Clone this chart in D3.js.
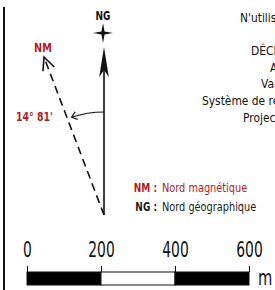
<!DOCTYPE html>
<html>
<head>
<meta charset="utf-8">
<script src="https://cdn.jsdelivr.net/npm/d3@7"></script>
<style>
  html, body { margin: 0; padding: 0; background: #fff; overflow: hidden; }
  svg { display: block; }
  text { font-family: "DejaVu Sans", sans-serif; }
</style>
</head>
<body>
<svg id="chart"></svg>
<script>
const scaleTicks = [0, 200, 400, 600];
const scaleSegments = [
  { from: 0, to: 200, fill: "black" },
  { from: 200, to: 400, fill: "white" },
  { from: 400, to: 600, fill: "black" },
];
const scaleUnit = "m";

const declinationLabel = "14° 81'";
const declinationAngle = 20.8; // degrees west, as drawn

const infoLines = [
  "N'utiliser qu'à titre indicatif",
  "",
  "DÉCLINAISON MAGNÉTIQUE",
  "Au 1er janvier",
  "Variation annuelle",
  "Système de référence : RGF93",
  "Projection : Lambert 93",
];
const infoX = [240, null, 251, 270, 261, 202, 243];

const legendItems = [
  { key: "NM", label: "Nord magnétique", color: "#b31b22" },
  { key: "NG", label: "Nord géographique", color: "#1a1a1a" },
];

const w = 275;
const h = 290;
const red = "#b31b22";
const ink = "#111";

const svg = d3.select("#chart").attr("width", w).attr("height", h);

// condensed look: squeeze text horizontally
function label(parent, x, y, str, o) {
  return parent.append("text")
    .attr("transform", `translate(${x},${y}) scale(${o.sx},1)`)
    .attr("text-anchor", o.anchor || "start")
    .attr("font-size", o.size)
    .attr("font-weight", o.bold ? "bold" : null)
    .attr("fill", o.color || ink)
    .text(str);
}

// frame line on the left
svg.append("line")
  .attr("x1", 4).attr("x2", 4)
  .attr("y1", 7).attr("y2", h)
  .attr("stroke", ink).attr("stroke-width", 2);

// north arrows
const base = { x: 104, y: 215 };
const ngLength = 168;
const nmLength = 169;

const ng = svg.append("g").attr("transform", `translate(${base.x},${base.y})`);

ng.append("line")
  .attr("x1", 0).attr("y1", 0)
  .attr("x2", 0).attr("y2", -ngLength + 20)
  .attr("stroke", ink).attr("stroke-width", 1.6);

ng.append("path")
  .attr("d", `M0,${-ngLength} L4.8,${-ngLength + 30} L0,${-ngLength + 23} L-4.8,${-ngLength + 30}Z`)
  .attr("fill", ink);

// star above NG
const starR = 10, starr = 2.2;
const starPts = d3.range(8).map((i) => {
  const a = (i * Math.PI) / 4;
  const r = i % 2 === 0 ? starR : starr;
  return [r * Math.sin(a), -r * Math.cos(a)];
});
svg.append("path")
  .attr("transform", `translate(103,33)`)
  .attr("d", d3.line()(starPts) + "Z")
  .attr("fill", ink);

label(svg, 103, 19.5, "NG", { size: 12.5, bold: true, sx: 0.72, anchor: "middle" });

// magnetic north (dashed)
const nm = svg.append("g")
  .attr("transform", `translate(${base.x},${base.y}) rotate(${-declinationAngle})`);

nm.append("line")
  .attr("x1", 0).attr("y1", 0)
  .attr("x2", 0).attr("y2", -nmLength)
  .attr("stroke", ink).attr("stroke-width", 1.6)
  .attr("stroke-dasharray", "8,5");

nm.append("path")
  .attr("d", `M-6,${-nmLength + 13} L0,${-nmLength} L6,${-nmLength + 13}`)
  .attr("fill", "none").attr("stroke", ink).attr("stroke-width", 1.6);

label(svg, 43, 52, "NM", { size: 13, bold: true, sx: 0.75, anchor: "middle", color: red });

// angle arc
const arcR = 103;
const rad = (d) => (d * Math.PI) / 180;
const arcEnd = -declinationAngle + 2.5;
const arcPath = d3.path();
arcPath.arc(0, 0, arcR, rad(-90), rad(-90 + arcEnd), true);
ng.append("path")
  .attr("d", arcPath.toString())
  .attr("fill", "none").attr("stroke", ink).attr("stroke-width", 1.2);

const ex = arcR * Math.sin(rad(arcEnd));
const ey = -arcR * Math.cos(rad(arcEnd));
ng.append("path")
  .attr("transform", `translate(${ex},${ey}) rotate(${arcEnd})`)
  .attr("d", "M5,-4 L0,0 L5,4")
  .attr("fill", "none").attr("stroke", ink).attr("stroke-width", 1.2);

label(svg, 34.5, 121, declinationLabel, { size: 12.5, bold: true, sx: 0.75, anchor: "middle", color: red });

// info block on the right (cut by the frame)
infoLines.forEach((t, i) => {
  if (!t) return;
  label(svg, infoX[i], 22 + i * 16.6, t, { size: 11.5, sx: 0.93 });
});

// legend
legendItems.forEach((d, i) => {
  const y = 192 + i * 19;
  label(svg, 157, y, d.key + " :", { size: 12, bold: true, sx: 0.75, anchor: "end", color: d.color });
  label(svg, 162, y, d.label, { size: 11.5, sx: 0.85, color: d.color });
});

// scale bar
const xScale = d3.scaleLinear().domain([0, 600]).range([27, 249]);
const barTop = 272, barH = 13;

svg.append("g")
  .selectAll("rect")
  .data(scaleSegments)
  .enter()
  .append("rect")
  .attr("x", (d) => xScale(d.from))
  .attr("y", barTop)
  .attr("width", (d) => xScale(d.to) - xScale(d.from))
  .attr("height", barH)
  .attr("fill", (d) => d.fill)
  .attr("stroke", ink).attr("stroke-width", 1);

const axis = svg.append("g")
  .attr("transform", `translate(0,${barTop})`)
  .call(d3.axisTop(xScale).tickValues(scaleTicks).tickSize(6).tickPadding(9));

axis.select(".domain").remove();
axis.selectAll(".tick line").attr("stroke", ink);
axis.selectAll(".tick text")
  .attr("font-size", 21)
  .attr("font-family", null)
  .attr("transform", "scale(0.66,1)")
  .attr("fill", ink);

label(svg, 258, barTop + barH, scaleUnit, { size: 21, sx: 0.7 });
</script>
</body>
</html>
